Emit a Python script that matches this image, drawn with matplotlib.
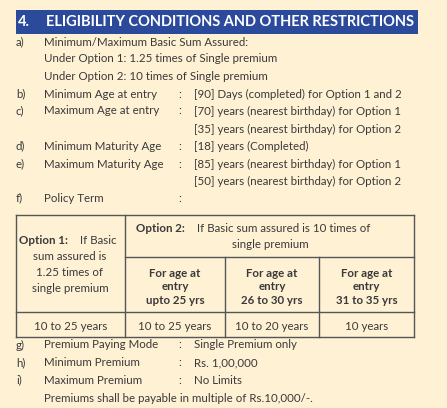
import matplotlib.pyplot as plt
from matplotlib.patches import Rectangle

BG = '#fff1d4'
TXT = '#3a3a3a'
FONT = 'Lato'

header_num = '4.'
header_title = 'ELIGIBILITY CONDITIONS AND OTHER RESTRICTIONS'

# (label, item, colon, value, y)
items_top = [
    ('a)', 'Minimum/Maximum Basic Sum Assured:', '', '', 42),
    ('', 'Under Option 1: 1.25 times of Single premium', '', '', 59),
    ('', 'Under Option 2: 10 times of Single premium', '', '', 76),
    ('b)', 'Minimum Age at entry', ':', '[90] Days (completed) for Option 1 and 2', 94),
    ('c)', 'Maximum Age at entry', ':', '[70] years (nearest birthday) for Option 1', 111),
    ('', '', '', '[35] years (nearest birthday) for Option 2', 129),
    ('d)', 'Minimum Maturity Age', ':', '[18] years (Completed)', 146),
    ('e)', 'Maximum Maturity Age', ':', '[85] years (nearest birthday) for Option 1', 164),
    ('', '', '', '[50] years (nearest birthday) for Option 2', 181),
    ('f)', 'Policy Term', ':', '', 198),
]
items_bottom = [
    ('g)', 'Premium Paying Mode', ':', 'Single Premium only', 345),
    ('h)', 'Minimum Premium', ':', 'Rs. 1,00,000', 363),
    ('i)', 'Maximum Premium', ':', 'No Limits', 380),
    ('', 'Premiums shall be payable in multiple of Rs.10,000/-.', '', '', 398),
]

sub_heads = ['For age at\nentry\nupto 25 yrs', 'For age at\nentry\n26 to 30 yrs', 'For age at\nentry\n31 to 35 yrs']
terms = ['10 to 25 years', '10 to 25 years', '10 to 20 years', '10 years']

fig = plt.figure(figsize=(4.47, 4.08), dpi=100)
fig.patch.set_facecolor(BG)
ax = fig.add_axes([0, 0, 1, 1])
ax.set_xlim(0, 447)
ax.set_ylim(408, 0)
ax.axis('off')

kw = dict(family=FONT, fontsize=8.3, color=TXT, va='center')

# header bar
ax.add_patch(Rectangle((16, 10), 402, 24, facecolor='#2c4a9b', edgecolor='none'))
ax.text(18, 22, header_num, family=FONT, fontsize=10.5, weight='bold', color='white', va='center')
ax.text(46, 22, header_title, family=FONT, fontsize=10.5, weight='bold', color='white', va='center')

for lab, item, colon, val, y in items_top + items_bottom:
    ax.text(16, y, lab, **kw)
    ax.text(44, y, item, **kw)
    ax.text(178, y, colon, **kw)
    ax.text(194, y, val, **kw)

# table grid
xs = [16, 125, 225, 319, 414]
y_top, y_mid, y_head, y_bot = 215, 257, 312, 337
lw, lc = 1.0, '#555555'
ax.plot([xs[0], xs[-1]], [y_top, y_top], color=lc, lw=lw)
ax.plot([xs[1], xs[-1]], [y_mid, y_mid], color=lc, lw=lw)
ax.plot([xs[0], xs[-1]], [y_head, y_head], color=lc, lw=lw)
ax.plot([xs[0], xs[-1]], [y_bot, y_bot], color=lc, lw=lw)
for i, x in enumerate(xs):
    y0 = y_mid if i in (2, 3) else y_top
    ax.plot([x, x], [y0, y_bot], color=lc, lw=lw)

# option 1 header cell
ax.text(19, 240, 'Option 1:', family=FONT, fontsize=8.3, weight='bold', color=TXT, va='center')
ax.text(80, 240, 'If Basic', **kw)
for y, s in zip([257, 273, 289], ['sum assured is', '1.25 times of', 'single premium']):
    ax.text(70, y, s, ha='center', **{k: v for k, v in kw.items()})

# option 2 header cell
ax.text(136, 228, 'Option 2:', family=FONT, fontsize=8.3, weight='bold', color=TXT, va='center')
ax.text(197, 228, 'If Basic sum assured is 10 times of', **kw)
ax.text(270, 245, 'single premium', ha='center', **kw)

for i, s in enumerate(sub_heads):
    cx = (xs[i + 1] + xs[i + 2]) / 2
    ax.text(cx, 287, s, ha='center', family=FONT, fontsize=8.3, weight='bold',
            color=TXT, va='center', linespacing=1.25)

for i, s in enumerate(terms):
    cx = (xs[i] + xs[i + 1]) / 2
    ax.text(cx, 326, s, ha='center', **kw)

fig.savefig('out.png', dpi=100, facecolor=BG)
